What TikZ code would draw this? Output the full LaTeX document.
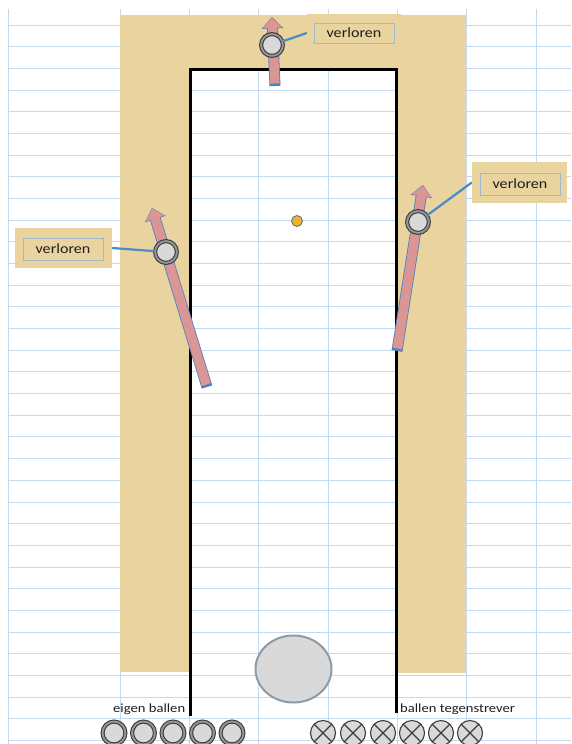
\documentclass[tikz,border=0pt]{standalone}
\usepackage{fontspec}
\usepackage{graphicx}
\setmainfont{Carlito}
\usetikzlibrary{arrows.meta,shapes.geometric}
\definecolor{papyrus}{RGB}{233,211,158}
\definecolor{gridc}{RGB}{196,218,240}
\definecolor{pinkarrow}{RGB}{217,150,148}
\definecolor{blueedge}{RGB}{79,129,189}
\definecolor{connc}{RGB}{74,140,200}
\definecolor{framec}{RGB}{160,185,205}
\definecolor{balll}{RGB}{217,217,217}
\definecolor{balld}{RGB}{60,60,60}
\definecolor{ballm}{RGB}{150,150,150}
\definecolor{txt}{RGB}{30,30,30}
\definecolor{orangedot}{RGB}{245,178,40}
\definecolor{dotedge}{RGB}{60,120,130}
\definecolor{ellc}{RGB}{140,155,165}
\begin{document}
\begin{tikzpicture}[x=1pt,y=-1pt,
  gridline/.style={draw=gridc, line width=0.9pt},
  wall/.style={draw=black, line width=3pt, line join=miter},
  lostball/.style={circle, minimum size=21.8pt, inner sep=0pt, fill=balll, draw=balld, line width=1.1pt, double=ballm, double distance=1.9pt},
  ownball/.style={lostball, minimum size=22.9pt},
  oppball/.style={circle, minimum size=25pt, inner sep=0pt, fill=balll, draw=balld, line width=1.1pt,
    path picture={\draw[balld, line width=1.1pt] (path picture bounding box.north west) -- (path picture bounding box.south east)
      (path picture bounding box.north east) -- (path picture bounding box.south west);}},
  labelbg/.style={rectangle, fill=papyrus, inner sep=0pt},
  labelframe/.style={rectangle, draw=framec, line width=0.6pt, fill=papyrus, inner sep=0pt, text=txt, font=\fontsize{14}{14}\selectfont},
  conn/.style={draw=connc, line width=2.2pt},
  arrowedge/.style={draw=blueedge, line width=11pt, -{Triangle[width=21pt,length=11.5pt]}},
  arrowbody/.style={draw=pinkarrow, line width=9.4pt, shorten <=2.5pt, shorten >=0.8pt, -{Triangle[width=19pt,length=10pt]}},
  smalltext/.style={anchor=west, inner sep=0pt, text=txt, font=\fontsize{12.5}{12.5}\selectfont},
]
\useasboundingbox (0,0) rectangle (571,744);
\fill[white] (0,0) rectangle (571,744);
% sheet grid
\foreach \k in {0,...,33} \draw[gridline] (8,{25+21.68*\k}) -- (571,{25+21.68*\k});
\foreach \x in {8,120,189,258,328,397,466,536} \draw[gridline] (\x,9) -- (\x,744);
% papyrus surround
\fill[papyrus] (120,15) rectangle (466,69);
\fill[papyrus] (120,15) rectangle (190,672);
\fill[papyrus] (396,15) rectangle (466,673);
% walls
\draw[wall] (190,716) -- (190,69) -- (396,69) -- (396,713);
% arrows
\coordinate (tTip) at (272,17); \coordinate (tBase) at (275,86);
\coordinate (lTip) at (152,208); \coordinate (lBase) at (207,387);
\coordinate (rTip) at (423,185); \coordinate (rBase) at (397,351);
\draw[arrowedge] (tBase) -- (tTip);
\draw[arrowbody] (tBase) -- (tTip);
\draw[arrowedge] (lBase) -- (lTip);
\draw[arrowbody] (lBase) -- (lTip);
\draw[arrowedge] (rBase) -- (rTip);
\draw[arrowbody] (rBase) -- (rTip);
% lost balls
\node[lostball] (ballT) at (272,45) {};
\node[lostball] (ballL) at (166,252) {};
\node[lostball] (ballR) at (418,222) {};
% labels
\node[labelbg, minimum width=94pt, minimum height=38pt] (lblT) at (354,33) {};
\node[labelframe, minimum width=80pt, minimum height=20pt] (frT) at (lblT) {\scalebox{1.15}[1]{verloren}};
\node[labelbg, minimum width=97pt, minimum height=40pt] (lblL) at (63.5,248) {};
\node[labelframe, minimum width=80pt, minimum height=22pt] (frL) at (63,249) {\scalebox{1.15}[1]{verloren}};
\node[labelbg, minimum width=95pt, minimum height=41pt] (lblR) at (519.5,182.5) {};
\node[labelframe, minimum width=80pt, minimum height=22pt] (frR) at (520,184) {\scalebox{1.15}[1]{verloren}};
\draw[conn] (lblT.west) -- (ballT);
\draw[conn] (lblL.east) -- (ballL);
\draw[conn] (lblR.west) -- (ballR);
% jack and target
\node[circle, fill=orangedot, draw=dotedge, line width=0.8pt, minimum size=11pt, inner sep=0pt] (jack) at (297,221) {};
\node[ellipse, fill=balll, draw=ellc, line width=2pt, minimum width=76pt, minimum height=67pt, inner sep=0pt] (target) at (293.5,669) {};
% bottom balls
\foreach \x [count=\i] in {114,143.5,173,202.5,232} \node[ownball] (own\i) at (\x,733) {};
\foreach \x [count=\i] in {323,353,383,412,441,470} \node[oppball] (opp\i) at (\x,733) {};
\node[smalltext] (ownlbl) at (113,709) {\scalebox{1.17}[1]{eigen ballen}};
\node[smalltext] (opplbl) at (400,709) {\scalebox{1.17}[1]{ballen tegenstrever}};
\end{tikzpicture}
\end{document}
